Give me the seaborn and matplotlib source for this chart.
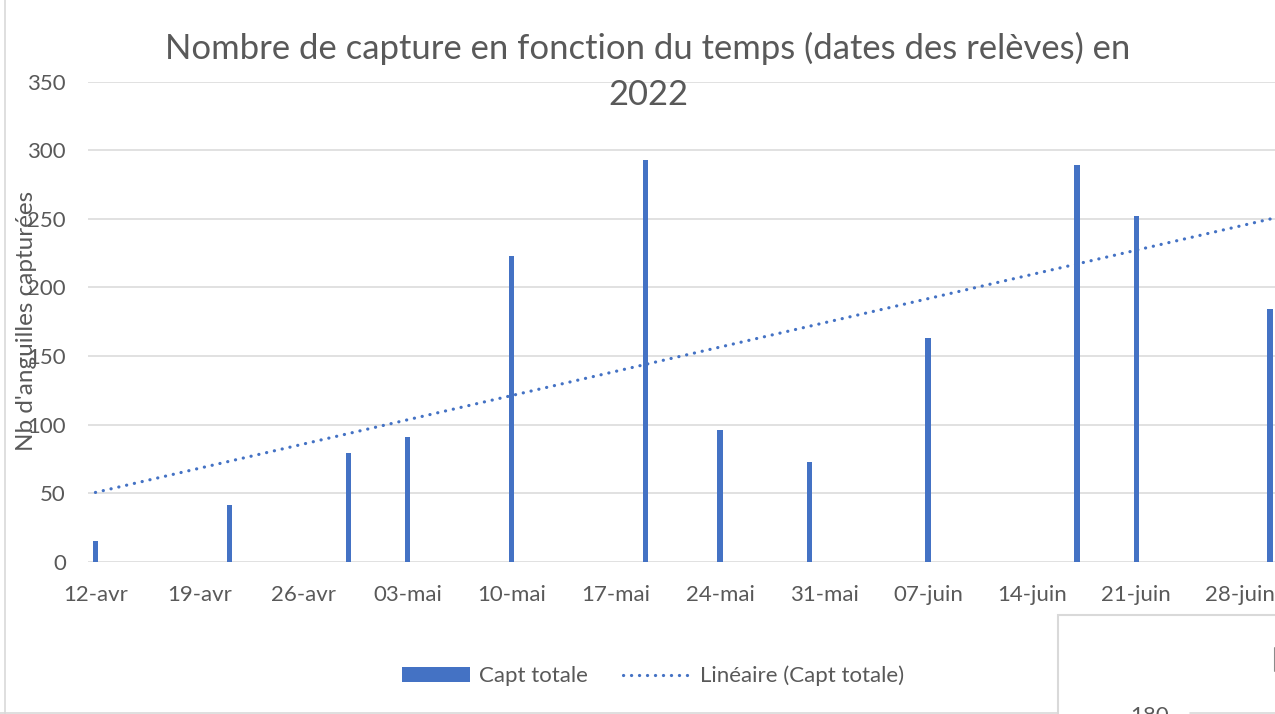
import numpy as np
import pandas as pd
import matplotlib
matplotlib.use("Agg")
import matplotlib.pyplot as plt
from matplotlib.patches import Patch, Rectangle
from matplotlib.lines import Line2D
import seaborn as sns

# ---- data ----
dates = ["2022-04-12", "2022-04-21", "2022-04-29", "2022-05-03", "2022-05-10",
         "2022-05-19", "2022-05-24", "2022-05-30", "2022-06-07", "2022-06-17",
         "2022-06-21", "2022-06-30"]
capt_totale = [15, 41, 79, 91, 223, 293, 96, 73, 163, 289, 252, 184]
tick_dates = ["2022-04-12", "2022-04-19", "2022-04-26", "2022-05-03", "2022-05-10",
              "2022-05-17", "2022-05-24", "2022-05-31", "2022-06-07", "2022-06-14",
              "2022-06-21", "2022-06-28"]
tick_labels = ["12-avr", "19-avr", "26-avr", "03-mai", "10-mai", "17-mai",
               "24-mai", "31-mai", "07-juin", "14-juin", "21-juin", "28-juin"]
yticks = [0, 50, 100, 150, 200, 250, 300, 350]

title_l1 = "Nombre de capture en fonction du temps (dates des relèves) en"
title_l2 = "2022"
ylabel = "Nb d'anguilles capturées"

BLUE = "#4472C4"
TXT = "#595959"
GRID = "#D9D9D9"

sns.set_theme(style="white")
plt.rcParams['font.family'] = ['Lato', 'DejaVu Sans']

origin = pd.Timestamp(dates[0])
df = pd.DataFrame({
    "day": [(pd.Timestamp(d) - origin).days for d in dates],
    "capt": capt_totale,
})
tick_pos = [(pd.Timestamp(d) - origin).days for d in tick_dates]

W, H = 1275, 714
fig = plt.figure(figsize=(W / 100, H / 100), dpi=100)
fig.patch.set_facecolor("white")

x0 = 88
ppd = 14.87
ax = fig.add_axes([x0 / W, 1 - 561.7 / H, 80 * ppd / W, 480.2 / H])

for y in yticks:
    ax.axhline(y, color=GRID, lw=1.1, zorder=0)

sns.barplot(data=df, x="day", y="capt", native_scale=True, color=BLUE,
            saturation=1, width=0.09, ax=ax, zorder=2)
# constant bar width in days
for p in ax.patches:
    cx = p.get_x() + p.get_width() / 2
    p.set_width(0.36)
    p.set_x(cx - 0.18)
    p.set_edgecolor("none")

DOTS = (0, (0.05, 2.45))
sns.regplot(data=df, x="day", y="capt", scatter=False, ci=None, truncate=True,
            ax=ax, color=BLUE,
            line_kws=dict(lw=2.3, linestyle=DOTS, dash_capstyle="round", zorder=3))

ax.set_xlim(-0.5, 79.5)
ax.set_ylim(0, 350)
ax.set_xticks(tick_pos)
ax.set_xticklabels(tick_labels)
ax.set_yticks(yticks)
ax.set_yticklabels([str(v) for v in yticks])
ax.tick_params(axis="both", length=0, labelsize=16, colors=TXT)
ax.tick_params(axis="x", pad=17)
ax.tick_params(axis="y", pad=16)
ax.set_xlabel("")
ax.set_ylabel("")
for s in ax.spines.values():
    s.set_visible(False)
ax.set_facecolor("none")

fig.text(648 / W, 1 - 48 / H, title_l1, ha="center", va="center", fontsize=24.9, color=TXT)
fig.text(648 / W, 1 - 95 / H, title_l2, ha="center", va="center", fontsize=24.9, color=TXT)

fig.text(27 / W, 1 - 321 / H, ylabel, rotation=90, ha="center", va="center",
         fontsize=17.5, color=TXT)

handles = [Patch(facecolor=BLUE, edgecolor="none", label="Capt totale"),
           Line2D([0], [0], color=BLUE, lw=2.3, linestyle=DOTS,
                  dash_capstyle="round", label="Linéaire (Capt totale)")]
leg = fig.legend(handles=handles, loc="center", bbox_to_anchor=(653 / W, 1 - 676 / H),
                 ncol=2, frameon=False, fontsize=16, handlelength=3.05,
                 handleheight=0.6, columnspacing=1.6, handletextpad=0.4)
for t in leg.get_texts():
    t.set_color(TXT)

# chart border (left / bottom)
fig.add_artist(Line2D([5 / W, 5 / W], [0, 1], transform=fig.transFigure, color=GRID, lw=1.2))
fig.add_artist(Line2D([0, 1058 / W], [1 - 712.5 / H] * 2, transform=fig.transFigure,
                      color=GRID, lw=1.2))

# overlapping chart frame at bottom right
fig.add_artist(Rectangle((1058 / W, -0.01), (W - 1058 + 10) / W, (714 - 615) / H + 0.01,
                         transform=fig.transFigure, facecolor="white",
                         edgecolor=GRID, lw=1.5, zorder=5))
fig.add_artist(Line2D([1190 / W, 1], [1 - 712.8 / H] * 2, transform=fig.transFigure,
                      color=GRID, lw=1.2, zorder=6))
fig.add_artist(Line2D([1274.5 / W] * 2, [1 - 648 / H, 1 - 671 / H], transform=fig.transFigure,
                      color="#8C8C8C", lw=1.5, zorder=6))
fig.text(1150 / W, 1 - 716 / H, "180", ha="center", va="center", fontsize=16,
         color=TXT, zorder=7)

fig.savefig("out.png", dpi=100)
